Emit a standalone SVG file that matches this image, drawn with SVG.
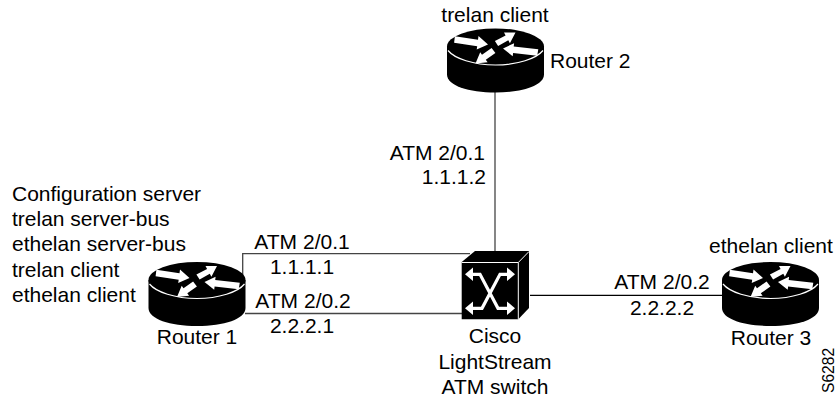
<svg xmlns="http://www.w3.org/2000/svg" width="837" height="398" viewBox="0 0 837 398">
<style>
text{font-family:"Liberation Sans",Arial,sans-serif;font-size:21px;fill:#000}
.m{text-anchor:middle}
.e{text-anchor:end}
.c{fill:none;stroke:#444;stroke-width:1.3}
.w{fill:#fff}
</style>
<defs>
<g id="router">
<path d="M-48.5 0V28C-48.5 39 -27 46 0 46S48.500 39 48.500 28V0Z" fill="#000"/>
<ellipse rx="48.500" ry="18" fill="#000"/>
<path d="M-47.500 4C-41 12 -22 18.500 0 18.500S41 12 47.500 4" fill="none" stroke="#fff" stroke-width="1.200"/>
<path class="w" d="M-40.600 -10.300L-17.500 -6.800L-17 -10.400L-7.500 -2L-18.800 3L-18.300 -.2L-41.400 -3.700Z"/>
<path class="w" d="M-.6 -5.400L10.100 -11L8.500 -14L20 -14L14.400 -3.300L12.800 -6.200L2.600 -.6Z"/>
<path class="w" d="M42.800 2.700L18.200 -.1L18.600 -3.300L7.500 2L17.200 9.700L17.600 6.500L41.700 9.300Z"/>
<path class="w" d="M-3.900 1.500L-13.500 8.300L-15.300 5.800L-20 17L-7.900 15.800L-9.700 13.300L-.1 6.500Z"/>
</g>
</defs>
<g id="connectors">
<path class="c" d="M495 92V251"/>
<path class="c" d="M242.700 276V253.700H470"/>
<path class="c" d="M245 313.500H462"/>
<path d="M530 295.300H723" fill="none" stroke="#000" stroke-width="1.300"/>
</g>
<g id="router2">
<use href="#router" x="495.500" y="46.500"/>
<text class="m" x="495" y="21.500">trelan client</text>
<text x="550" y="67.500">Router 2</text>
</g>
<g id="router1">
<use href="#router" x="197" y="280"/>
<text x="12" y="200.500">Configuration server</text>
<text x="12" y="225.500">trelan server-bus</text>
<text x="12" y="251">ethelan server-bus</text>
<text x="12" y="276.500">trelan client</text>
<text x="12" y="301.500">ethelan client</text>
<text class="m" x="197" y="344">Router 1</text>
</g>
<g id="router3">
<use href="#router" x="770.500" y="280"/>
<text class="m" x="771" y="252.500">ethelan client</text>
<text class="m" x="771" y="345">Router 3</text>
</g>
<g id="switch">
<path d="M461.700 262L475 251H529V308L518.300 319.300H461.700Z" fill="#000"/>
<path d="M461.700 262.500H518.300V319.300M518.300 262.500L529 251.500" fill="none" stroke="#fff" stroke-width="1"/>
<path d="M472 274.300H480L498 308.300H508M508 274.300H500L482 308.300H472" fill="none" stroke="#fff" stroke-width="3.200"/>
<path class="w" d="M465 274.300L473 267.500V281ZM515 274.300L507 267.500V281ZM465 308.300L473 301.500V315ZM515 308.300L507 301.500V315Z"/>
<text class="m" x="495" y="343">Cisco</text>
<text class="m" x="495" y="368.500">LightStream</text>
<text class="m" x="495" y="394">ATM switch</text>
</g>
<g id="labels">
<text class="e" x="485" y="160">ATM 2/0.1</text>
<text class="e" x="486" y="184">1.1.1.2</text>
<text class="m" x="302" y="248.500">ATM 2/0.1</text>
<text class="m" x="302" y="274">1.1.1.1</text>
<text class="m" x="303" y="307.500">ATM 2/0.2</text>
<text class="m" x="302" y="333">2.2.2.1</text>
<text class="m" x="662" y="289">ATM 2/0.2</text>
<text class="m" x="662" y="315">2.2.2.2</text>
<text transform="translate(834 393) rotate(-90)" style="font-size:15.600px">S6282</text>
</g>
</svg>
